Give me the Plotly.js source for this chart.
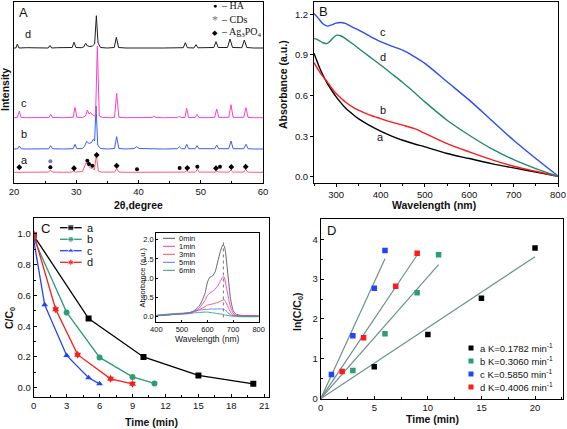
<!DOCTYPE html>
<html><head><meta charset="utf-8">
<script src="https://cdn.plot.ly/plotly-3.0.1.min.js"></script>
<style>html,body{margin:0;padding:0;background:#fff;}#chart{width:567px;height:429px;}</style>
</head><body><div id="chart"></div>
<script>
// ---------- Panel A : XRD (offset patterns, arbitrary intensity) ----------
const xrdA_x = [20,22,24,25.55,25.84,26.15,28,29.3,29.6,29.9,31,31.3,31.57,31.85,32.1,32.35,32.58,32.9,33.23,33.55,34,35.5,36.15,36.49,36.85,38,42,46,47.4,47.7,48,49.15,49.45,49.75,51,52.3,52.6,52.9,54.55,54.86,55.15,56.9,57.22,57.55,58.5,60];
const xrdA_y = [10.7,10.7,10.7,10.9,13,10.9,10.7,10.9,12,10.9,11.5,16,20,18,16.3,14.5,15.3,13,28,12,10.9,10.7,10.9,14.7,10.9,10.7,10.7,10.7,10.9,12,10.9,10.9,13.7,10.9,10.7,10.9,12,10.9,10.9,13,10.9,10.9,13.7,10.9,10.7,10.7];
const xrdB_x = [20,20.55,20.86,21.15,22,24,25.6,25.89,26.2,28,29.5,29.8,30.1,31,31.35,31.67,31.95,32.2,32.45,32.74,32.95,33.18,33.45,33.9,35,36.15,36.49,36.85,38,39.3,39.7,40.1,42,44,46.25,46.56,46.9,47.45,47.74,48.05,49.1,49.4,49.7,51,52.25,52.56,52.9,54.5,54.86,55.2,56.9,57.27,57.6,58.5,60];
const xrdB_y = [34,34.2,37,34.2,34,34,34.2,37.3,34.2,34,34.3,38.7,34.3,34.5,37,41.7,40,39.7,40.5,43.7,42,77,38,34.5,34,34.5,46.3,34.5,34,34.5,36.3,34.5,34,34,34.3,36.3,34.3,34.3,38.7,34.3,34.3,37.3,34.3,34,34.3,38,34.3,34.3,42,34.3,34.3,38.7,34.3,34,34];
const xrdC_x = [20,20.55,20.86,21.15,22,24,25.6,25.89,26.2,28,29.5,29.8,30.1,31,31.5,31.78,32.05,32.32,32.7,33.1,33.39,33.7,34.2,35.5,36.15,36.49,36.85,38,40,42.2,42.49,42.8,44,46.3,46.56,46.85,47.45,47.74,48.05,49.1,49.4,49.7,51,52.25,52.56,52.9,54.5,54.86,55.2,56.9,57.27,57.6,58.5,60];
const xrdC_y = [65.3,65.5,72,65.5,65.3,65.3,65.5,68.7,65.5,65.3,65.7,75.7,65.7,65.5,67,73,69,70.3,67.5,67,137,67,65.5,65.3,65.7,89.7,65.7,65.3,65.5,65.5,67,65.5,65.3,65.4,66.7,65.5,65.5,74.7,65.5,65.5,68.7,65.4,65.3,65.6,74,65.6,65.6,78.3,65.6,65.6,75.3,65.6,65.3,65.3];
const xrdD_x = [20,20.3,20.54,20.8,22,23.5,25.5,25.78,26.05,27,28.5,29.35,29.64,29.95,30.8,31.2,31.51,31.8,32.2,32.6,32.95,33.23,33.5,33.9,35,36.1,36.44,36.8,38,40,42,44,46,47.2,47.52,47.85,48.9,49.24,49.55,51,52.1,52.45,52.8,54.3,54.7,55.1,56.6,57.0,57.4,58.5,60];
const xrdD_y = [135,135,139,135,135.3,135,135,137.5,135,135.3,135,135.5,140.7,135.5,135.3,136,139.7,137,136.5,137,139,167.3,140,135.5,135,135.5,145.7,135.5,135,135.3,135,135,135,135.3,140.3,135.3,135,138.3,135.2,135,135.5,141.3,135.5,135.5,144,135.5,135.3,143,135.5,135,135];
const agMarkX = [20.86,29.64,33.28,36.49,47.84,52.45,54.91,57.22];
const agMarkY = [15.7,14.7,28,17.3,15,14.7,16,16.3];
const haMarkX = [25.84,31.78,32.05,32.58,39.76,46.61,49.45,53.09];
const haMarkY = [15.7,22.3,19,17.3,13.7,15,16.3,16.3];
const cdMarkX = [25.84];
const cdMarkY = [21.7];

// ---------- Panel B : UV-vis absorbance ----------
const wlB = [250,260,270,280,290,300,310,320,340,350,375,400,425,450,475,500,550,600,650,700,750,800];
const absA = [0.912,0.826,0.752,0.69,0.638,0.591,0.55,0.512,0.455,0.43,0.38,0.338,0.302,0.271,0.245,0.222,0.173,0.136,0.099,0.067,0.037,0.005];
const absB = [0.843,0.789,0.742,0.702,0.656,0.616,0.585,0.555,0.51,0.493,0.458,0.431,0.405,0.382,0.358,0.322,0.246,0.185,0.128,0.079,0.042,0.005];
const absC = [1.207,1.17,1.13,1.113,1.122,1.135,1.14,1.133,1.1,1.085,1.04,0.998,0.965,0.935,0.89,0.838,0.702,0.567,0.419,0.271,0.136,0.007];
const absD = [1.023,1.01,0.99,0.985,1.015,1.045,1.042,1.023,0.975,0.95,0.888,0.826,0.762,0.697,0.627,0.554,0.419,0.308,0.209,0.128,0.062,0.005];

// ---------- Panel C : C/C0 vs time ----------
const tA = [0,5,10,15,20],  cA = [0.99,0.45,0.20,0.08,0.025];
const tB = [0,3,6,9,11],    cB = [0.97,0.49,0.197,0.07,0.028];
const tC = [0,1,3,5,6],     cC = [0.96,0.54,0.21,0.065,0.025];
const tD = [0,2,4,7,9],     cD = [1.0,0.51,0.215,0.058,0.025];

// ---------- Inset : absorbance spectra vs time ----------
const wlIn = [400,450,500,530,550,570,590,600,610,620,630,640,650,660,665,670,680,690,700,710,730,800];
const in0 = [0.035,0.05,0.08,0.1,0.165,0.3,0.6,0.9,1.03,1.06,1.17,1.43,1.69,1.86,1.84,1.69,1.08,0.47,0.165,0.07,0.035,0.02];
const in1 = [0.03,0.05,0.07,0.09,0.14,0.24,0.42,0.55,0.62,0.66,0.72,0.8,0.92,1.03,1.03,0.9,0.55,0.25,0.09,0.04,0.03,0.02];
const in3 = [0.03,0.06,0.08,0.1,0.13,0.19,0.26,0.3,0.32,0.33,0.35,0.37,0.4,0.43,0.44,0.4,0.25,0.12,0.05,0.03,0.02,0.02];
const in5 = [0.03,0.07,0.09,0.11,0.15,0.17,0.19,0.19,0.2,0.2,0.2,0.2,0.2,0.2,0.19,0.17,0.1,0.05,0.03,0.02,0.01,0.01];
const in6 = [0.02,0.05,0.07,0.08,0.1,0.11,0.12,0.12,0.11,0.1,0.09,0.08,0.07,0.06,0.05,0.04,0.03,0.02,0.01,0.01,0.0,0.0];
const insetLabels = ['0min','1min','3min','5min','6min'];
const peakLambda = 662;

// ---------- Panel D : ln(C0/C) vs time ----------
const dTa = [5,10,15,20],  dLa = [0.80,1.61,2.52,3.78];
const dTb = [3,6,9,11],    dLb = [0.71,1.63,2.66,3.61];
const dTc = [1,3,5,6],     dLc = [0.61,1.58,2.77,3.72];
const dTd = [2,4,7,9],     dLd = [0.68,1.53,2.82,3.65];
const kVals = [0.1782,0.3060,0.5850,0.4006];
const fitEnd = [20,11,6,9];
const seriesNames = ['a','b','c','d'];

// ---------- helpers / style ----------
const W = 567, H = 429;
const FONT = 'Liberation Sans, Arial, sans-serif';
const px = p => p / W, py = p => 1 - p / H;
const colA = {a:'#ff5b6e', b:'#3a5cff', c:'#ff3fcf', d:'#1e1e1e'};
const colB = {a:'#000000', b:'#ff1a1a', c:'#2a4bff', d:'#1f8a6a'};
const colC = {a:'#000000', b:'#2a9d72', c:'#2244ff', d:'#ff1a1a'};
const colIn = ['#555555','#ff33cc','#ff5060','#5577ff','#3a9a78'];
const fitColor = '#6f8f8f';

const traces = [];
// A
[[xrdA_x,xrdA_y,colA.a],[xrdB_x,xrdB_y,colA.b],[xrdC_x,xrdC_y,colA.c],[xrdD_x,xrdD_y,colA.d]].forEach(s=>{
  traces.push({x:s[0],y:s[1],type:'scatter',mode:'lines',line:{color:s[2],width:1},xaxis:'x',yaxis:'y',hoverinfo:'skip'});
});
traces.push({x:agMarkX,y:agMarkY,type:'scatter',mode:'markers',marker:{symbol:'diamond',size:4.5,color:'#000'},xaxis:'x',yaxis:'y'});
traces.push({x:haMarkX,y:haMarkY,type:'scatter',mode:'markers',marker:{symbol:'circle',size:4,color:'#000'},xaxis:'x',yaxis:'y'});
traces.push({x:cdMarkX,y:cdMarkY,type:'scatter',mode:'markers',marker:{symbol:'circle',size:4,color:'#7a7aa0'},xaxis:'x',yaxis:'y'});
// B
[[absA,colB.a],[absB,colB.b],[absC,colB.c],[absD,colB.d]].forEach(s=>{
  traces.push({x:wlB,y:s[0],type:'scatter',mode:'lines',line:{color:s[1],width:1.4,shape:'spline',smoothing:0.8},xaxis:'x2',yaxis:'y2'});
});
// C
const cSyms = ['square','circle','triangle-up','hexagram'];
[[tA,cA,colC.a],[tB,cB,colC.b],[tC,cC,colC.c],[tD,cD,colC.d]].forEach((s,i)=>{
  traces.push({x:s[0],y:s[1],type:'scatter',mode:'lines+markers',line:{color:s[2],width:1.3},
    marker:{symbol:cSyms[i],size:6,color:s[2]},xaxis:'x3',yaxis:'y3'});
});
// Inset
[in0,in1,in3,in5,in6].forEach((s,i)=>{
  traces.push({x:wlIn,y:s,type:'scatter',mode:'lines',line:{color:colIn[i],width:0.9,shape:'spline',smoothing:0.6},xaxis:'x5',yaxis:'y5'});
});
// D
const dCols = [colC.a,colC.b,colC.c,colC.d];
[[dTa,dLa],[dTb,dLb],[dTc,dLc],[dTd,dLd]].forEach((s,i)=>{
  traces.push({x:[0,fitEnd[i]],y:[0,kVals[i]*fitEnd[i]],type:'scatter',mode:'lines',line:{color:fitColor,width:1.2},xaxis:'x4',yaxis:'y4'});
});
[[dTa,dLa],[dTb,dLb],[dTc,dLc],[dTd,dLd]].forEach((s,i)=>{
  traces.push({x:s[0],y:s[1],type:'scatter',mode:'markers',marker:{symbol:'square',size:5.5,color:dCols[i]},xaxis:'x4',yaxis:'y4'});
});

// legend glyphs on a full-figure overlay axis (pixel layout coordinates)
const cLegRows = [227.7,239.3,250.7,262.3];
cLegRows.forEach((r,i)=>{
  traces.push({x:[60,70.8,81.7],y:[r,r,r],type:'scatter',mode:'lines+markers',line:{color:dCols[i],width:1.3},
    marker:{symbol:cSyms[i],size:[0,6,0],color:dCols[i]},xaxis:'x6',yaxis:'y6'});
});
const dLegRows = [348,361,374,387];
dLegRows.forEach((r,i)=>{
  traces.push({x:[471],y:[r],type:'scatter',mode:'markers',marker:{symbol:'square',size:5,color:dCols[i]},xaxis:'x6',yaxis:'y6'});
});
const inLegRows = [238.3,246.3,254.3,262.3,270.3];
inLegRows.forEach((r,i)=>{
  traces.push({x:[163,175],y:[r,r],type:'scatter',mode:'lines',line:{color:colIn[i],width:1},xaxis:'x6',yaxis:'y6'});
});

// axes
function ax(domain, range, extra){
  return Object.assign({domain:domain, range:range, showline:true, mirror:true, linecolor:'#000', linewidth:1,
    showgrid:false, zeroline:false, ticks:'inside', ticklen:3, tickcolor:'#000',
    tickfont:{family:FONT,size:9.5,color:'#111'}, fixedrange:true}, extra||{});
}
const layout = {
  width:W, height:H, margin:{l:0,r:0,t:0,b:0}, paper_bgcolor:'#fff', plot_bgcolor:'rgba(0,0,0,0)',
  showlegend:false, font:{family:FONT,color:'#111'},
  xaxis: ax([px(14),px(263)],[20,60],{dtick:10,tick0:20,minor:{dtick:5,ticks:'inside',ticklen:2},anchor:'y'}),
  yaxis: ax([py(183),py(2)],[0,181],{showticklabels:false,ticks:'',anchor:'x'}),
  xaxis2: ax([px(314),px(558)],[250,800],{dtick:100,tick0:300,ticks:'outside',ticklen:2.5,minor:{dtick:50,ticks:'outside',ticklen:1.5},anchor:'y2'}),
  yaxis2: ax([py(183),py(2)],[-0.0443,1.2907],{dtick:0.3,tick0:0,tickformat:'.1f',ticks:'outside',anchor:'x2'}),
  xaxis3: ax([px(33.7),px(269)],[0,21.43],{dtick:3,tick0:0,minor:{dtick:1.5,ticks:'inside',ticklen:2},anchor:'y3'}),
  yaxis3: ax([py(396.7),py(218)],[-0.0586,1.104],{dtick:0.2,tick0:0,tickformat:'.1f',minor:{dtick:0.1,ticks:'inside',ticklen:2},anchor:'x3'}),
  xaxis4: ax([px(320.7),px(563.3)],[0,22.64],{dtick:5,tick0:0,minor:{dtick:2.5,ticks:'inside',ticklen:2},anchor:'y4'}),
  yaxis4: ax([py(398.7),py(219)],[0,4.509],{dtick:1,tick0:0,minor:{dtick:0.5,ticks:'inside',ticklen:2},anchor:'x4'}),
  xaxis5: ax([px(156.3),px(258.7)],[400,800],{dtick:100,tick0:400,ticklen:2,tickfont:{family:FONT,size:7.5,color:'#111'},anchor:'y5'}),
  yaxis5: ax([py(321.7),py(233)],[-0.13,2.174],{dtick:0.5,tick0:0,tickformat:'.1f',ticklen:2,tickfont:{family:FONT,size:7.5,color:'#111'},anchor:'x5'}),
  xaxis6: {domain:[0,1],range:[0,W],visible:false,anchor:'y6',fixedrange:true},
  yaxis6: {domain:[0,1],range:[H,0],visible:false,anchor:'x6',fixedrange:true},
  shapes:[
    {type:'line',xref:'x5',yref:'y5',x0:peakLambda,x1:peakLambda,y0:-0.02,y1:1.95,line:{color:'#777',width:1,dash:'dot'}}
  ],
  annotations:[]
};
const A = layout.annotations;
function txt(x,y,t,o){A.push(Object.assign({xref:'paper',yref:'paper',x:px(x),y:py(y),text:t,showarrow:false,
  xanchor:'center',yanchor:'middle',font:{family:FONT,size:10,color:'#111'}},o||{}));}
// Panel letters
txt(23,12,'A',{font:{family:FONT,size:13,color:'#111'}});
txt(323,11,'B',{font:{family:FONT,size:13,color:'#111'}});
txt(45,228,'C',{font:{family:FONT,size:13,color:'#111'}});
txt(331,230,'D',{font:{family:FONT,size:13,color:'#111'}});
// Axis titles
const bold = {family:FONT,size:10.5,color:'#111',weight:'bold'};
txt(5,90,'<b>Intensity</b>',{textangle:-90,font:bold});
txt(138,204.5,'<b>2θ,degree</b>',{font:bold});
txt(283,85,'<b>Absorbance (a.u.)</b>',{textangle:-90,font:bold});
txt(434,205.5,'<b>Wavelength (nm)</b>',{font:bold});
txt(10,318,'<b>C/C<sub>0</sub></b>',{textangle:-90,font:bold});
txt(151,422,'<b>Time (min)</b>',{font:bold});
txt(298,312,'<b>ln(C/C<sub>0</sub>)</b>',{textangle:-90,font:bold});
txt(432,418.5,'<b>Time (min)</b>',{font:bold});
txt(141.5,278,'Absorbance (a.u.)',{textangle:-90,font:{family:FONT,size:7.5,color:'#111'}});
txt(207,338.5,'Wavelength (nm)',{font:{family:FONT,size:8.5,color:'#111'}});
// Panel A legend
const SERIF = 'Liberation Serif, Times New Roman, serif';
txt(215,6,'●',{font:{family:SERIF,size:7,color:'#000'}});
txt(219,6,'– HA',{xanchor:'left',font:{family:SERIF,size:10,color:'#111'}});
txt(215,20,'*',{font:{family:SERIF,size:12,color:'#777'}});
txt(219,20,'– CDs',{xanchor:'left',font:{family:SERIF,size:10,color:'#111'}});
txt(215,33,'◆',{font:{family:SERIF,size:7,color:'#000'}});
txt(219,33,'– Ag<sub>3</sub>PO<sub>4</sub>',{xanchor:'left',font:{family:SERIF,size:10,color:'#111'}});
// Panel A curve labels (data coords)
[[22.3,148.7,'d'],[21.65,79.7,'c'],[21.65,48.7,'b'],[21.65,23,'a']].forEach(l=>{
  A.push({xref:'x',yref:'y',x:l[0],y:l[1],text:l[2],showarrow:false,font:{family:FONT,size:11,color:'#111'}});
});
// Panel B curve labels
[[404.6,1.067,'c'],[404.6,0.887,'d'],[404.6,0.493,'b'],[400,0.296,'a']].forEach(l=>{
  A.push({xref:'x2',yref:'y2',x:l[0],y:l[1],text:l[2],showarrow:false,font:{family:FONT,size:11,color:'#111'}});
});
// Panel C legend text
cLegRows.forEach((r,i)=>txt(85,r,seriesNames[i],{xanchor:'left',font:{family:FONT,size:11,color:'#111'}}));
// Panel D legend text
dLegRows.forEach((r,i)=>txt(478,r,seriesNames[i]+' K='+kVals[i].toFixed(4)+' min<sup>-1</sup>',{xanchor:'left',font:{family:FONT,size:9.5,color:'#111'}}));
// Inset legend text
inLegRows.forEach((r,i)=>txt(177,r,insetLabels[i],{xanchor:'left',font:{family:FONT,size:7.5,color:'#111'}}));

Plotly.newPlot('chart', traces, layout, {staticPlot:true, displayModeBar:false});
</script></body></html>
